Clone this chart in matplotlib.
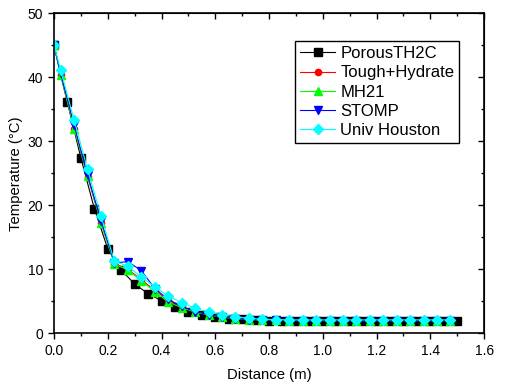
import matplotlib
matplotlib.use('Agg')
from matplotlib import rcParams
rcParams['font.family'] = ['Liberation Sans', 'DejaVu Sans']
rcParams['font.size'] = 10
import matplotlib.pyplot as plt
from matplotlib.ticker import MultipleLocator, FormatStrFormatter

# PorousTH2C: nodes every 0.05 m
x_porous = [0.0, 0.05, 0.10, 0.15, 0.20, 0.25, 0.30, 0.35, 0.40, 0.45, 0.50,
            0.55, 0.60, 0.65, 0.70, 0.75, 0.80, 0.85, 0.90, 0.95, 1.00, 1.05,
            1.10, 1.15, 1.20, 1.25, 1.30, 1.35, 1.40, 1.45, 1.50]
t_porous = [45.0, 36.1, 27.4, 19.5, 13.2, 9.9, 7.7, 6.2, 5.1, 4.1, 3.4,
            2.9, 2.5, 2.3, 2.2, 2.1, 2.0, 2.0, 2.0, 2.0, 2.0, 2.0,
            2.0, 2.0, 2.0, 2.0, 2.0, 2.0, 2.0, 2.0, 2.0]

# other codes: boundary + cell centres
x_cells = [0.0, 0.025, 0.075, 0.125, 0.175, 0.225, 0.275, 0.325, 0.375, 0.425,
           0.475, 0.525, 0.575, 0.625, 0.675, 0.725, 0.775, 0.825, 0.875, 0.925,
           0.975, 1.025, 1.075, 1.125, 1.175, 1.225, 1.275, 1.325, 1.375, 1.425,
           1.475]
t_tough = [45.0, 40.3, 31.9, 24.5, 17.2, 10.9, 10.0, 8.4, 6.7, 5.2,
           4.2, 3.4, 2.9, 2.5, 2.3, 2.15, 2.1, 2.05, 2.0, 2.0,
           2.0, 2.0, 2.0, 2.0, 2.0, 2.0, 2.0, 2.0, 2.0, 2.0, 2.0]
t_mh21 = [45.0, 40.4, 32.0, 24.6, 17.3, 10.8, 9.9, 8.2, 6.5, 4.9,
          4.0, 3.3, 2.9, 2.5, 2.3, 2.15, 2.1, 2.05, 2.0, 2.0,
          2.0, 2.0, 2.0, 2.0, 2.0, 2.0, 2.0, 2.0, 2.0, 2.0, 2.0]
t_stomp = [45.0, 40.6, 32.5, 24.7, 17.6, 11.0, 11.2, 9.8, 7.0, 5.3,
           4.2, 3.4, 2.9, 2.5, 2.3, 2.15, 2.1, 2.05, 2.0, 2.0,
           2.0, 2.0, 2.0, 2.0, 2.0, 2.0, 2.0, 2.0, 2.0, 2.0, 2.0]
t_houston = [45.0, 41.1, 33.3, 25.6, 18.3, 11.25, 10.5, 8.75, 7.3, 5.8,
             4.8, 3.9, 3.3, 2.9, 2.6, 2.35, 2.2, 2.15, 2.1, 2.1,
             2.1, 2.1, 2.1, 2.1, 2.1, 2.1, 2.1, 2.1, 2.1, 2.1, 2.1]

fig = plt.figure(figsize=(5.06, 3.92), dpi=100)
ax = fig.add_axes([0.1067, 0.1497, 0.85, 0.8163])

lw = 0.8
ax.plot(x_porous, t_porous, 'k-', marker='s', ms=5.8, lw=lw, label='PorousTH2C')
ax.plot(x_cells, t_tough, color='red', marker='o', ms=4.5, lw=lw, label='Tough+Hydrate')
ax.plot(x_cells, t_mh21, color='#00ff00', marker='^', ms=5.5, lw=lw, label='MH21')
ax.plot(x_cells, t_stomp, color='blue', marker='v', ms=5.8, lw=lw, label='STOMP')
ax.plot(x_cells, t_houston, color='cyan', marker='D', ms=5.0, lw=lw, label='Univ Houston')

ax.set_xlim(0, 1.6)
ax.set_ylim(0, 50)
ax.xaxis.set_major_locator(MultipleLocator(0.2))
ax.xaxis.set_minor_locator(MultipleLocator(0.1))
ax.yaxis.set_major_locator(MultipleLocator(10))
ax.yaxis.set_minor_locator(MultipleLocator(5))
ax.xaxis.set_major_formatter(FormatStrFormatter('%.1f'))
ax.tick_params(which='both', direction='out', width=1, top=False, right=False)
ax.tick_params(which='major', length=4.3)
ax.tick_params(which='minor', length=2.5)

# inward ticks on top and right
axt = ax.secondary_xaxis('top')
axt.xaxis.set_major_locator(MultipleLocator(0.2))
axt.xaxis.set_minor_locator(MultipleLocator(0.1))
axt.tick_params(which='both', direction='in', labeltop=False, width=1)
axt.tick_params(which='major', length=4.3)
axt.tick_params(which='minor', length=2.5)
axr = ax.secondary_yaxis('right')
axr.yaxis.set_major_locator(MultipleLocator(10))
axr.yaxis.set_minor_locator(MultipleLocator(5))
axr.tick_params(which='both', direction='in', labelright=False, width=1)
axr.tick_params(which='major', length=4.3)
axr.tick_params(which='minor', length=2.5)

for s in ax.spines.values():
    s.set_linewidth(1.2)

ax.set_xlabel('Distance (m)', fontsize=10.7, labelpad=7)
ax.set_ylabel('Temperature (°C)', fontsize=10.7, labelpad=3)

leg = ax.legend(loc='upper right', bbox_to_anchor=(0.942, 0.913), fontsize=12,
                fancybox=False, framealpha=1, edgecolor='black',
                handlelength=2.1, labelspacing=0.25, borderpad=0.3,
                handletextpad=0.3, borderaxespad=0)
leg.get_frame().set_linewidth(1.0)

fig.savefig('out.png', dpi=100)
plt.close(fig)
